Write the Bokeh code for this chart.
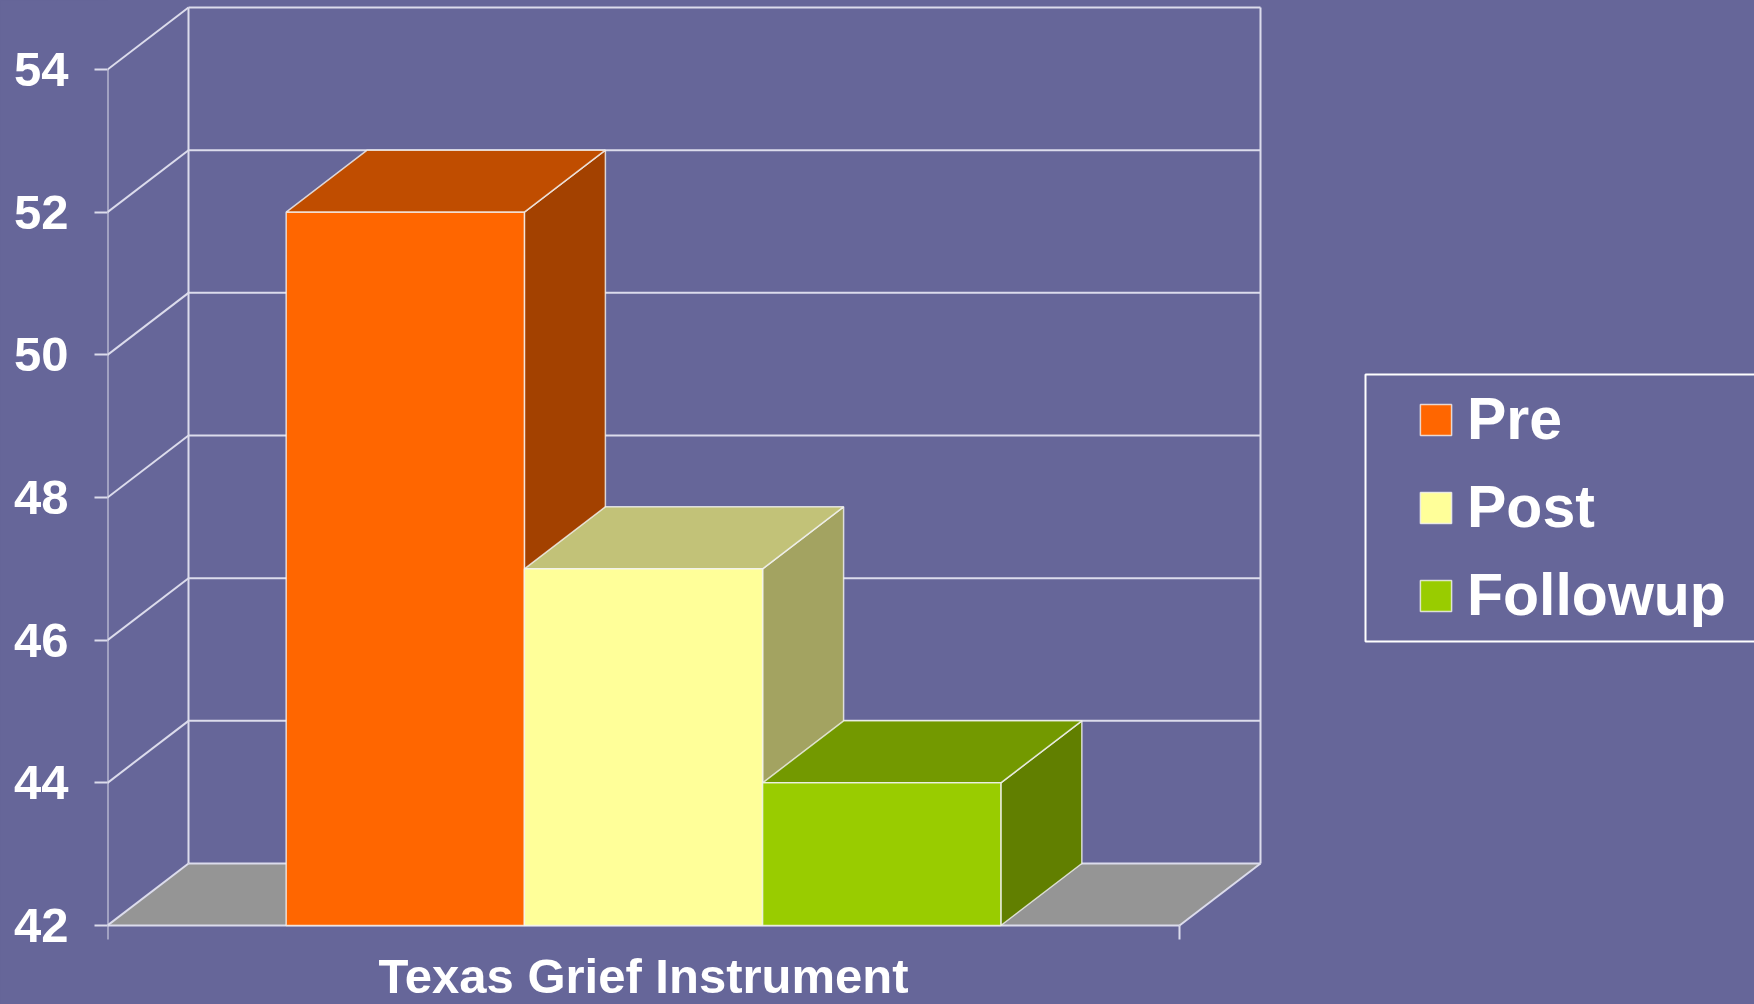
from bokeh.plotting import figure
from bokeh.models import Range1d, FixedTicker, Legend, LegendItem
from bokeh.embed import file_html
from bokeh.resources import INLINE
from bokeh.core.properties import value

# ---------------- data ----------------
categories = ["Texas Grief Instrument"]
series = ["Pre", "Post", "Followup"]
values = [52.0, 47.0, 44.0]
y_ticks = [42, 44, 46, 48, 50, 52, 54]

# ---------------- style ----------------
BG = "#666699"
GRID = "#DCDCEC"
EDGE = "#F4F4F4"
FLOOR = "#959595"
front_colors = ["#FF6600", "#FFFF99", "#99CC00"]
top_colors = ["#C04D00", "#C2C278", "#739900"]
side_colors = ["#A34100", "#A3A361", "#617F00"]
FONT = "Liberation Sans"

W, H = 1754, 1004
LEFT = 107           # frame left edge (px)
FRONT_BASE_PX = 925  # px of axis minimum at the front plane
PX_X = 1072.0        # px per category
PX_Y = 71.33         # px per value unit
DX = 81 / PX_X       # depth offset in data units
DY = 62 / PX_Y
TICK_LEN = 14 / PX_Y

y_min, y_max = y_ticks[0], y_ticks[-1]
y_top = y_min + FRONT_BASE_PX / PX_Y
y_bot = y_min - (H - FRONT_BASE_PX) / PX_Y

p = figure(width=W, height=H, output_backend="svg", toolbar_location=None,
           x_range=Range1d(0, (W - LEFT) / PX_X), y_range=Range1d(y_bot, y_top),
           x_axis_location=None, min_border=0)
p.min_border_left = LEFT
p.background_fill_color = BG
p.border_fill_color = BG
p.outline_line_color = None
p.xgrid.visible = False
p.ygrid.visible = False

ax = p.yaxis[0]
ax.ticker = FixedTicker(ticks=y_ticks)
ax.axis_line_color = None
ax.major_tick_line_color = GRID
ax.major_tick_line_width = 2
ax.major_tick_out = 13
ax.major_tick_in = 0
ax.minor_tick_line_color = None
ax.major_label_standoff = 26
ax.major_label_text_font = FONT
ax.major_label_text_font_style = "bold"
ax.major_label_text_font_size = "49px"
ax.major_label_text_color = "white"

ncat = len(categories)
# ---------------- floor ----------------
for c in range(ncat):
    p.patch([c, c + 1, c + 1 + DX, c + DX], [y_min, y_min, y_min + DY, y_min + DY],
            fill_color=FLOOR, line_color=None)

# ---------------- walls / gridlines ----------------
gx0, gy0, gx1, gy1 = [], [], [], []
for v in y_ticks:
    gx0.append(DX); gy0.append(v + DY); gx1.append(ncat + DX); gy1.append(v + DY)
    gx0.append(0); gy0.append(v); gx1.append(DX); gy1.append(v + DY)
gx0 += [0, DX, ncat + DX]
gy0 += [y_min, y_min + DY, y_min + DY]
gx1 += [0, DX, ncat + DX]
gy1 += [y_max, y_max + DY, y_max + DY]
gx0 += [0, ncat]; gy0 += [y_min, y_min]
gx1 += [ncat, ncat + DX]; gy1 += [y_min, y_min + DY]
for c in range(ncat + 1):
    gx0.append(c); gy0.append(y_min); gx1.append(c); gy1.append(y_min - TICK_LEN)
p.segment(x0=gx0, y0=gy0, x1=gx1, y1=gy1, line_color=GRID, line_width=2)

# ---------------- 3D bars ----------------
n = len(series)
gap = 1.5
bw = 1.0 / (n + gap)
front_renderers = []
for c in range(ncat):
    for i, (s, v) in enumerate(zip(series, values)):
        x0 = c + gap * bw / 2 + i * bw
        x1 = x0 + bw
        p.patch([x1, x1 + DX, x1 + DX, x1], [y_min, y_min + DY, v + DY, v],
                fill_color=side_colors[i], line_color=EDGE, line_width=1.5, line_alpha=0.8)
        p.patch([x0, x1, x1 + DX, x0 + DX], [v, v, v + DY, v + DY],
                fill_color=top_colors[i], line_color=EDGE, line_width=1.5, line_alpha=0.8)
        r = p.quad(left=[x0], right=[x1], bottom=[y_min], top=[v],
                   fill_color=front_colors[i], line_color=EDGE, line_width=1.5, line_alpha=0.8)
        front_renderers.append(r)

# ---------------- category label ----------------
p.text(x=[c + 0.5 for c in range(ncat)], y=[y_min - 0.71] * ncat, text=categories,
       text_align="center", text_baseline="middle", text_color="white",
       text_font=value(FONT), text_font_style="bold", text_font_size="49px")

# ---------------- legend ----------------
def px2x(px):
    return (px - LEFT) / PX_X

def px2y(py):
    return y_top - py / PX_Y

p.quad(left=[px2x(1365)], right=[px2x(1820)], top=[px2y(374)], bottom=[px2y(641)],
       fill_color=None, line_color="white", line_width=2)

legend = Legend(items=[LegendItem(label=s, renderers=[r]) for s, r in zip(series, front_renderers)],
                location=(1416 - LEFT, 375), orientation="vertical",
                padding=0, margin=0, spacing=20,
                glyph_width=39, glyph_height=39, label_height=67, label_standoff=12,
                label_text_font=FONT, label_text_font_style="bold",
                label_text_font_size="59px", label_text_color="white",
                border_line_color=None, background_fill_alpha=0)
p.add_layout(legend)

html = file_html(p, INLINE)
html = html.replace("<head>", "<head><style>html,body{margin:0;padding:0;background:#666699;overflow:hidden;}</style>", 1)
open("out.html", "w").write(html)
